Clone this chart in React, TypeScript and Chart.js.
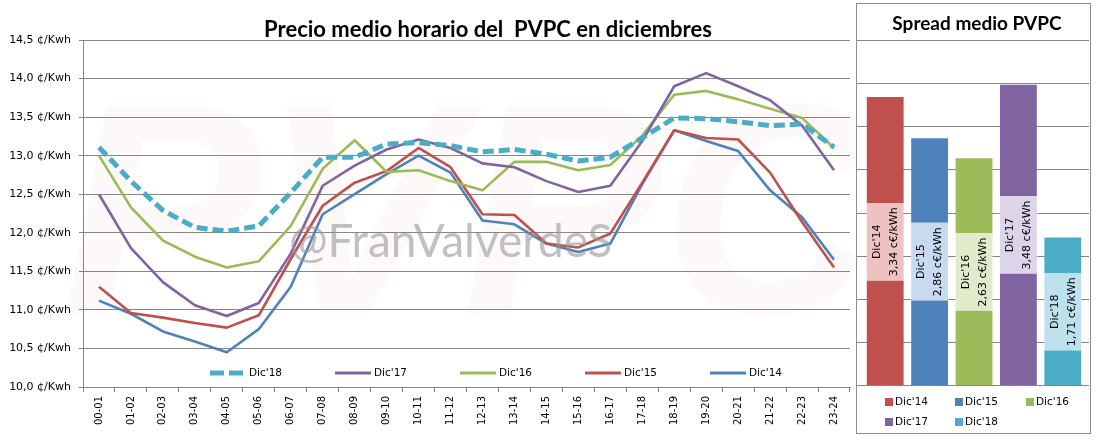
import React, { useEffect, useRef } from 'react';
import { Chart, registerables } from 'chart.js';

Chart.register(...registerables);

// ---------- Left chart data ----------
const HOURS = ['00-01','01-02','02-03','03-04','04-05','05-06','06-07','07-08','08-09','09-10','10-11','11-12','12-13','13-14','14-15','15-16','16-17','17-18','18-19','19-20','20-21','21-22','22-23','23-24'];
const DIC18 = [13.11,12.67,12.29,12.07,12.02,12.09,12.52,12.98,12.98,13.15,13.17,13.13,13.05,13.08,13.02,12.93,12.98,13.23,13.49,13.48,13.44,13.39,13.41,13.11];
const DIC17 = [12.50,11.80,11.36,11.06,10.92,11.09,11.73,12.61,12.87,13.08,13.21,13.10,12.90,12.85,12.67,12.53,12.61,13.19,13.90,14.07,13.90,13.72,13.39,12.81];
const DIC16 = [13.00,12.33,11.90,11.69,11.55,11.63,12.09,12.83,13.20,12.79,12.81,12.67,12.55,12.92,12.92,12.81,12.88,13.26,13.79,13.84,13.73,13.61,13.49,13.10];
const DIC15 = [11.30,10.96,10.90,10.83,10.77,10.93,11.66,12.35,12.65,12.80,13.10,12.85,12.24,12.23,11.86,11.81,11.99,12.65,13.33,13.23,13.21,12.78,12.14,11.55];
const DIC14 = [11.12,10.95,10.72,10.59,10.45,10.75,11.30,12.24,12.50,12.76,13.00,12.78,12.16,12.11,11.86,11.75,11.86,12.63,13.33,13.19,13.06,12.55,12.20,11.65];
const Y_MIN = 10.0;
const Y_MAX = 14.5;
const Y_STEP = 0.5;
const LINE_SERIES = ["Dic'18", "Dic'17", "Dic'16", "Dic'15", "Dic'14"];

// ---------- Right chart data ----------
const SPREAD_CATS = ["Dic'14", "Dic'15", "Dic'16", "Dic'17", "Dic'18"];
const SPREAD_VALUES = [3.34, 2.86, 2.63, 3.48, 1.71];
const SPREAD_BOTTOM = [1.21, 0.98, 0.86, 1.29, 0.40];
const SPREAD_MIDDLE = [0.90, 0.90, 0.90, 0.90, 0.90];
const SPREAD_TOP = [1.23, 0.98, 0.87, 1.29, 0.41];
const SPREAD_MIN = 0;
const SPREAD_MAX = 4;
const SPREAD_STEP = 0.5;

const C18 = '#4BACC6';
const C17 = '#8064A2';
const C16 = '#9BBB59';
const C15 = '#C0504D';
const C14 = '#4F81BD';
const LINE_COLORS = [C18, C17, C16, C15, C14];
const BAR_DARK = [C15, C14, C16, C17, C18];
const BAR_LIGHT = ['#EDC2C1', '#C8DAF0', '#E1EBCC', '#DCD4E9', '#BDE1EC'];
const GRID = '#868686';
const TICK_FONT = 'DejaVu Sans';

const fmtComma = (v: number, d: number) => v.toFixed(d).replace('.', ',');

const leftPlugin = {
  id: 'leftDeco',
  beforeDraw(chart: any) {
    const ctx = chart.ctx;
    ctx.save();
    ctx.fillStyle = '#ffffff';
    ctx.fillRect(0, 0, chart.width, chart.height);
    ctx.font = 'bold italic 300px "Liberation Sans"';
    ctx.fillStyle = 'rgba(215,40,40,0.028)';
    ctx.textAlign = 'center';
    ctx.textBaseline = 'middle';
    ctx.fillText('PVPC', 470, 230);
    ctx.restore();
  },
  afterDatasetsDraw(chart: any) {
    const ctx = chart.ctx;
    ctx.save();
    // watermark
    ctx.font = '46px Lato';
    ctx.fillStyle = 'rgba(150,150,150,0.6)';
    ctx.textAlign = 'left';
    ctx.textBaseline = 'alphabetic';
    ctx.fillText('@FranValverdeS', 289, 257);

    // in-plot legend
    const ly = 373;
    ctx.font = `10.5px "${TICK_FONT}"`;
    ctx.textBaseline = 'middle';
    LINE_SERIES.forEach((name, i) => {
      const x0 = 210 + i * 125;
      ctx.strokeStyle = LINE_COLORS[i];
      if (i === 0) {
        ctx.lineWidth = 5;
        ctx.setLineDash([14, 5]);
      } else {
        ctx.lineWidth = 3;
        ctx.setLineDash([]);
      }
      ctx.beginPath();
      ctx.moveTo(x0, ly);
      ctx.lineTo(x0 + 36, ly);
      ctx.stroke();
      ctx.setLineDash([]);
      ctx.fillStyle = '#000';
      ctx.fillText(name, x0 + 39, ly);
    });
    ctx.restore();
  },
  afterDraw(chart: any) {
    const ctx = chart.ctx;
    ctx.save();
    ctx.font = 'bold 22px Lato';
    ctx.fillStyle = '#000';
    ctx.textAlign = 'center';
    ctx.textBaseline = 'alphabetic';
    ctx.fillText('Precio medio horario del  PVPC en diciembres', 488, 37);
    ctx.restore();
  },
};

const rightPlugin = {
  id: 'rightDeco',
  beforeDraw(chart: any) {
    const ctx = chart.ctx;
    ctx.save();
    ctx.fillStyle = '#ffffff';
    ctx.fillRect(0, 0, chart.width, chart.height);
    ctx.restore();
  },
  beforeDatasetsDraw(chart: any) {
    const ctx = chart.ctx;
    const ys = chart.scales.y;
    ctx.save();
    ctx.strokeStyle = GRID;
    ctx.lineWidth = 1;
    for (let v = SPREAD_MIN; v <= SPREAD_MAX + 1e-9; v += SPREAD_STEP) {
      const y = Math.round(ys.getPixelForValue(v)) + 0.5;
      ctx.beginPath();
      ctx.moveTo(2, y);
      ctx.lineTo(234, y);
      ctx.stroke();
    }
    ctx.restore();
  },
  afterDatasetsDraw(chart: any) {
    const ctx = chart.ctx;
    const meta = chart.getDatasetMeta(1);
    ctx.save();
    ctx.font = `11px "${TICK_FONT}"`;
    ctx.fillStyle = '#000';
    ctx.textAlign = 'center';
    ctx.textBaseline = 'middle';
    meta.data.forEach((el: any, i: number) => {
      const cy = (el.y + el.base) / 2;
      ctx.save();
      ctx.translate(el.x, cy);
      ctx.rotate(-Math.PI / 2);
      ctx.fillText(SPREAD_CATS[i], 0, -8);
      ctx.fillText(fmtComma(SPREAD_VALUES[i], 2) + ' c€/kWh', 0, 9);
      ctx.restore();
    });
    ctx.restore();
  },
  afterDraw(chart: any) {
    const ctx = chart.ctx;
    ctx.save();
    // border
    ctx.strokeStyle = '#8C8C8C';
    ctx.lineWidth = 1;
    ctx.strokeRect(1.5, 3.5, 234, 430);
    // title
    ctx.font = 'bold 19px Lato';
    ctx.fillStyle = '#000';
    ctx.textAlign = 'center';
    ctx.textBaseline = 'alphabetic';
    ctx.fillText('Spread medio PVPC', 122, 30);
    // legend
    ctx.font = `10.5px "${TICK_FONT}"`;
    ctx.textAlign = 'left';
    ctx.textBaseline = 'middle';
    const pos = [
      [30, 402], [100, 402], [171, 402],
      [30, 422], [100, 422],
    ];
    SPREAD_CATS.forEach((name, i) => {
      const [x, y] = pos[i];
      ctx.fillStyle = BAR_DARK[i];
      ctx.fillRect(x, y - 4, 8, 8);
      ctx.fillStyle = '#000';
      ctx.fillText(name, x + 10, y);
    });
    ctx.restore();
  },
};

export default function App() {
  const leftRef = useRef<HTMLCanvasElement>(null);
  const rightRef = useRef<HTMLCanvasElement>(null);

  useEffect(() => {
    document.body.style.margin = '0';
    const series = [DIC18, DIC17, DIC16, DIC15, DIC14];
    const left = new Chart(leftRef.current as HTMLCanvasElement, {
      type: 'line',
      data: {
        labels: HOURS,
        datasets: series.map((d, i) => ({
          label: LINE_SERIES[i],
          data: d,
          borderColor: LINE_COLORS[i],
          backgroundColor: LINE_COLORS[i],
          borderWidth: i === 0 ? 5 : 2.6,
          borderDash: i === 0 ? [11, 5] : [],
          pointRadius: 0,
          tension: 0,
          fill: false,
          borderJoinStyle: 'round' as const,
        })),
      },
      options: {
        responsive: false,
        animation: false,
        layout: { padding: { top: 40, right: 5, left: 0, bottom: 0 } },
        plugins: { legend: { display: false }, tooltip: { enabled: false }, title: { display: false } },
        scales: {
          x: {
            type: 'category',
            offset: true,
            grid: { display: true, drawOnChartArea: false, drawTicks: true, tickLength: 5, offset: true, color: GRID },
            border: { color: GRID },
            ticks: {
              autoSkip: false,
              minRotation: 90,
              maxRotation: 90,
              padding: 4,
              color: '#000',
              font: { family: TICK_FONT, size: 10 },
            },
            afterFit: (s: any) => { s.height = 53; },
          },
          y: {
            min: Y_MIN,
            max: Y_MAX,
            grid: { color: GRID, tickLength: 4 },
            border: { color: GRID },
            ticks: {
              stepSize: Y_STEP,
              padding: 8,
              color: '#000',
              font: { family: TICK_FONT, size: 11 },
              callback: (v: any) => fmtComma(Number(v), 1) + ' ¢/Kwh',
            },
            afterFit: (s: any) => { s.width = 83; },
          },
        },
      },
      plugins: [leftPlugin],
    });

    const right = new Chart(rightRef.current as HTMLCanvasElement, {
      type: 'bar',
      data: {
        labels: SPREAD_CATS,
        datasets: [
          { label: 'bottom', data: SPREAD_BOTTOM, backgroundColor: BAR_DARK, borderWidth: 0 },
          { label: 'middle', data: SPREAD_MIDDLE, backgroundColor: BAR_LIGHT, borderWidth: 0 },
          { label: 'top', data: SPREAD_TOP, backgroundColor: BAR_DARK, borderWidth: 0 },
        ],
      },
      options: {
        responsive: false,
        animation: false,
        layout: { padding: { top: 40, right: 12, left: 8, bottom: 55 } },
        datasets: { bar: { barPercentage: 0.83, categoryPercentage: 1 } },
        plugins: { legend: { display: false }, tooltip: { enabled: false }, title: { display: false } },
        scales: {
          x: { stacked: true, display: false },
          y: { stacked: true, display: false, min: SPREAD_MIN, max: SPREAD_MAX },
        },
      },
      plugins: [rightPlugin],
    });

    return () => {
      left.destroy();
      right.destroy();
    };
  }, []);

  return (
    <div style={{ position: 'relative', width: 1097, height: 440, background: '#fff', overflow: 'hidden' }}>
      <canvas ref={leftRef} width={855} height={440} style={{ position: 'absolute', left: 0, top: 0 }} />
      <canvas ref={rightRef} width={242} height={440} style={{ position: 'absolute', left: 855, top: 0 }} />
    </div>
  );
}
